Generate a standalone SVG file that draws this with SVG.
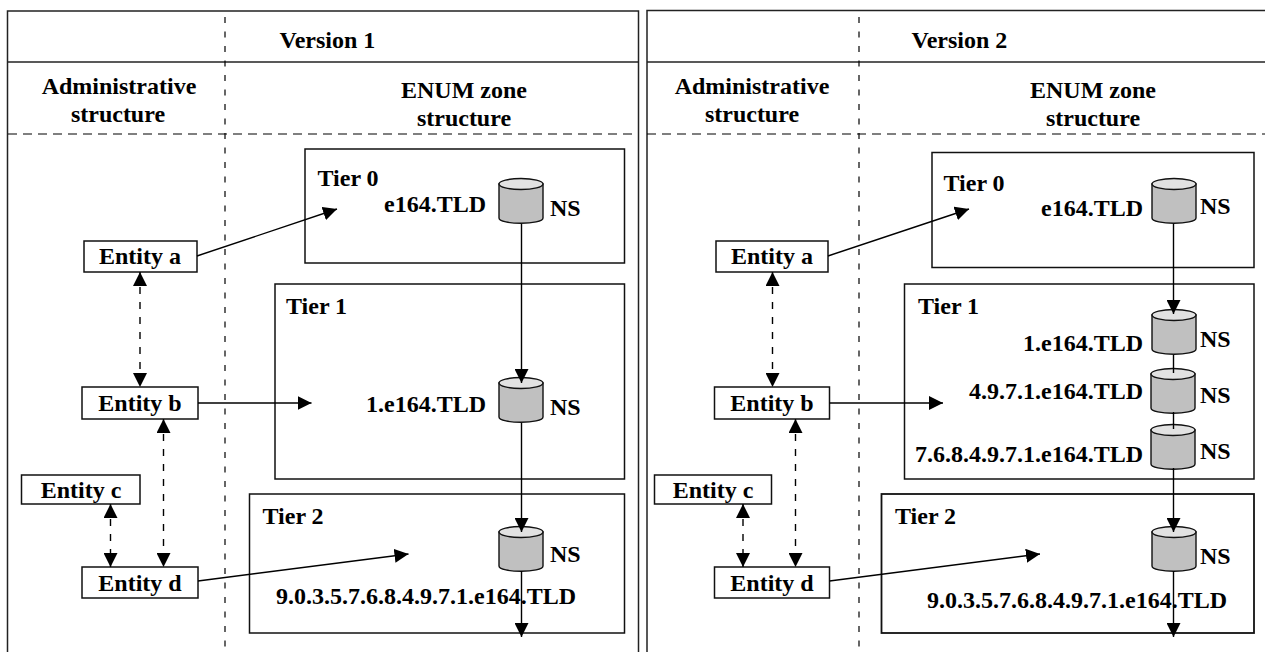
<svg xmlns="http://www.w3.org/2000/svg" width="1265" height="652" viewBox="0 0 1265 652">
<style>
text{font-family:"Liberation Serif","Times New Roman",serif;font-weight:bold;font-size:24px;fill:#000}
.m{text-anchor:middle}.e{text-anchor:end}
.frame{fill:none;stroke:#222;stroke-width:1.5}
.box{fill:#fff;stroke:#111;stroke-width:1.5}
.guide{fill:none;stroke:#000;stroke-width:1.2}
.dv{stroke-dasharray:6 8.5}
.dh{stroke-dasharray:9 6}
.ln{fill:none;stroke:#000;stroke-width:1.4}
.dash{stroke-dasharray:7 8}
.body{fill:#c0c0c0;stroke:#111;stroke-width:1.4}
.lid{fill:#e2e2e2;stroke:#111;stroke-width:1.4}
</style>
<defs>
<marker id="ah" markerUnits="userSpaceOnUse" markerWidth="15" markerHeight="14" refX="14" refY="7" orient="auto-start-reverse"><path d="M0 0L14 7L0 14Z" fill="#000"/></marker>
<symbol id="cyl" overflow="visible"><path class="body" d="M0 6V40C0 47 44 47 44 40V6Z"/><ellipse class="lid" cx="22" cy="6" rx="22" ry="5.5"/></symbol>
</defs>
<g id="panel-v1">
<rect class="frame" x="7.5" y="11" width="631" height="660"/>
<line class="frame" x1="7.5" y1="62" x2="638.5" y2="62"/>
<line class="guide dh" x1="8" y1="134" x2="638" y2="134"/>
<line class="guide dv" x1="225" y1="17" x2="225" y2="652"/>
<text x="279.5" y="48">Version 1</text>
<text class="m" x="119" y="94">Administrative</text>
<text class="m" x="118" y="122">structure</text>
<text class="m" x="464" y="98">ENUM zone</text>
<text class="m" x="464" y="126">structure</text>
</g>
<g id="panel-v2">
<rect class="frame" x="647" y="10.5" width="640" height="660"/>
<line class="frame" x1="647" y1="62" x2="1265" y2="62"/>
<line class="guide dh" x1="647" y1="134" x2="1265" y2="134"/>
<line class="guide dv" x1="859" y1="17" x2="859" y2="652"/>
<text x="911.5" y="48">Version 2</text>
<text class="m" x="752" y="94">Administrative</text>
<text class="m" x="752" y="122">structure</text>
<text class="m" x="1093" y="98">ENUM zone</text>
<text class="m" x="1093" y="126">structure</text>
</g>
<g id="v1-tier0"><rect class="box" x="305" y="149" width="319.5" height="114"/><text x="317.5" y="186">Tier 0</text><text class="e" x="486" y="212">e164.TLD</text><use href="#cyl" x="499" y="178"/><text x="550" y="216">NS</text></g>
<g id="v1-tier1"><rect class="box" x="275" y="284" width="349.5" height="195"/><text x="286" y="314">Tier 1</text><text class="e" x="486" y="412">1.e164.TLD</text><use href="#cyl" x="499" y="377"/><text x="550" y="415">NS</text></g>
<g id="v1-tier2"><rect class="box" x="249.5" y="494" width="375" height="139"/><text x="262.5" y="524">Tier 2</text><use href="#cyl" x="499" y="526"/><text x="550" y="562">NS</text><text x="276" y="604">9.0.3.5.7.6.8.4.9.7.1.e164.TLD</text></g>
<g id="v1-entity-a"><rect class="box" x="84" y="241" width="113" height="31"/><text class="m" x="140" y="264">Entity a</text></g>
<g id="v1-entity-b"><rect class="box" x="82" y="387" width="116" height="32"/><text class="m" x="140" y="411">Entity b</text></g>
<g id="v1-entity-c"><rect class="box" x="21.5" y="475" width="118.5" height="29"/><text class="m" x="81" y="498">Entity c</text></g>
<g id="v1-entity-d"><rect class="box" x="82" y="567" width="116" height="31"/><text class="m" x="140" y="591">Entity d</text></g>
<g id="v2-tier0"><rect class="box" x="932" y="152.5" width="322" height="115"/><text x="943.5" y="191">Tier 0</text><text class="e" x="1143" y="216">e164.TLD</text><use href="#cyl" x="1152" y="178"/><text x="1200" y="214">NS</text></g>
<g id="v2-tier1"><rect class="box" x="904.5" y="284" width="349.5" height="195"/><text x="918" y="314">Tier 1</text><text class="e" x="1143" y="351">1.e164.TLD</text><use href="#cyl" x="1152" y="309"/><text x="1200" y="347">NS</text><text class="e" x="1143" y="399">4.9.7.1.e164.TLD</text><use href="#cyl" x="1151" y="368"/><text x="1200" y="403">NS</text><text class="e" x="1143" y="462">7.6.8.4.9.7.1.e164.TLD</text><use href="#cyl" x="1151" y="424"/><text x="1200" y="459">NS</text></g>
<g id="v2-tier2"><rect class="box" x="881.5" y="494" width="372.5" height="139" style="stroke-width:1.8"/><text x="895" y="524">Tier 2</text><use href="#cyl" x="1152" y="526"/><text x="1200" y="564">NS</text><text x="927" y="608">9.0.3.5.7.6.8.4.9.7.1.e164.TLD</text></g>
<g id="v2-entity-a"><rect class="box" x="716" y="241" width="112" height="31"/><text class="m" x="772" y="264">Entity a</text></g>
<g id="v2-entity-b"><rect class="box" x="714.5" y="387" width="115" height="32"/><text class="m" x="772" y="411">Entity b</text></g>
<g id="v2-entity-c"><rect class="box" x="654.5" y="475" width="117" height="29"/><text class="m" x="713" y="498">Entity c</text></g>
<g id="v2-entity-d"><rect class="box" x="714.5" y="567" width="115" height="31"/><text class="m" x="772" y="591">Entity d</text></g>
<g id="connectors">
<path class="ln" d="M197 256L337 209" marker-end="url(#ah)"/>
<path class="ln" d="M198 403L311.5 403" marker-end="url(#ah)"/>
<path class="ln" d="M198 581L408.5 554" marker-end="url(#ah)"/>
<path class="ln" d="M521.5 224V383" marker-end="url(#ah)"/>
<path class="ln" d="M521.5 423V532" marker-end="url(#ah)"/>
<path class="ln" d="M521.5 571V637" marker-end="url(#ah)"/>
<path class="ln dash" d="M140 272V387" marker-start="url(#ah)" marker-end="url(#ah)"/>
<path class="ln dash" d="M163.5 419V567" marker-start="url(#ah)" marker-end="url(#ah)"/>
<path class="ln dash" d="M110.5 504V567" marker-start="url(#ah)" marker-end="url(#ah)"/>
<path class="ln" d="M828 256L969 209" marker-end="url(#ah)"/>
<path class="ln" d="M829.5 403L943 403" marker-end="url(#ah)"/>
<path class="ln" d="M829.5 581L1040 554" marker-end="url(#ah)"/>
<path class="ln" d="M1173.5 224V314" marker-end="url(#ah)"/>
<path class="ln" d="M1173.5 355V373"/>
<path class="ln" d="M1173.5 412V429"/>
<path class="ln" d="M1173.5 468V532" marker-end="url(#ah)"/>
<path class="ln" d="M1173.5 571V637" marker-end="url(#ah)"/>
<path class="ln dash" d="M772.5 272V387" marker-start="url(#ah)" marker-end="url(#ah)"/>
<path class="ln dash" d="M795.5 419V567" marker-start="url(#ah)" marker-end="url(#ah)"/>
<path class="ln dash" d="M743 504V567" marker-start="url(#ah)" marker-end="url(#ah)"/>
</g>
</svg>
